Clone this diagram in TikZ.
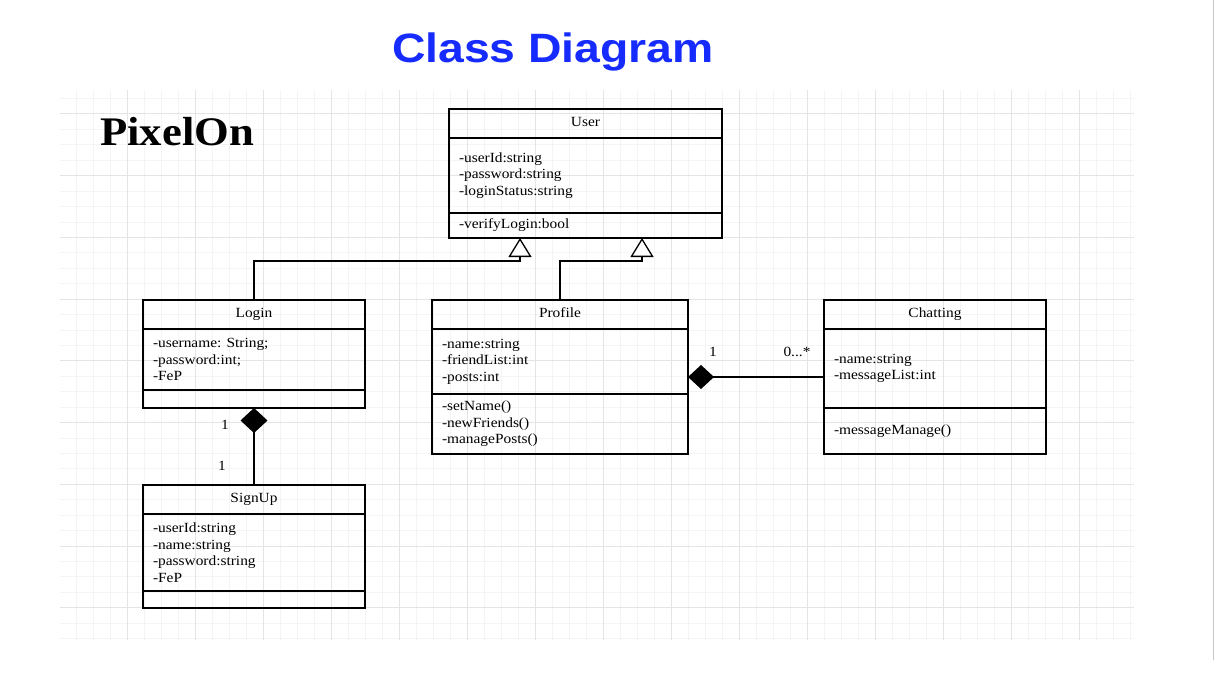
\documentclass[tikz,border=0pt]{standalone}
\usepackage{fontspec}
\usepackage{graphicx}
\setmainfont{Liberation Serif}
\newfontfamily\titlefont{Liberation Sans}
\usetikzlibrary{arrows.meta}
\frenchspacing

\definecolor{titleblue}{RGB}{22,44,255}
\definecolor{gridminor}{RGB}{244,244,244}
\definecolor{gridmajor}{RGB}{228,228,228}

% body text is set slightly widened
\newcommand\bodyfont{\fontsize{14}{16.5}\selectfont}
\newcommand\sx[1]{\scalebox{1.1}[1]{#1}}

\tikzset{
  cell/.style={draw=black, line width=1.3pt, inner sep=0pt, outer sep=0pt,
               anchor=north west, font=\bodyfont},
  head/.style={cell, align=center, text height=9.5pt, text depth=4pt},
  members/.style={cell, align=left, inner xsep=10pt},
  inherit/.style={line width=1.3pt, -{Triangle[fill=white, length=19pt, width=23pt]}},
  composeH/.style={line width=1.3pt, {Diamond[length=26pt, width=24pt]}-},
  composeV/.style={line width=1.3pt, {Diamond[length=25pt, width=27pt]}-},
  mult/.style={font=\bodyfont, inner sep=0pt},
}

\begin{document}
\begin{tikzpicture}[x=1pt, y=-1pt]
\useasboundingbox (0,0) rectangle (1214,674);
\fill[white] (0,0) rectangle (1214,674);

% background grid
\begin{scope}
  \clip (60,90) rectangle (1134,640);
  \foreach \i in {0,...,63}
    \draw[gridminor, line width=1pt] ({59+17*\i},90) -- ({59+17*\i},640);
  \foreach \j in {-1,...,34}
    \draw[gridminor, line width=1pt] (60,{114+15.43*\j}) -- (1134,{114+15.43*\j});
  \foreach \i in {0,4,...,60}
    \draw[gridmajor, line width=1pt] ({59+17*\i},90) -- ({59+17*\i},640);
  \foreach \j in {0,4,...,32}
    \draw[gridmajor, line width=1pt] (60,{114+15.43*\j}) -- (1134,{114+15.43*\j});
\end{scope}

% page edge
\draw[gray!45, line width=1pt] (1213,0) -- (1213,660);

% headings
\node[font=\titlefont\bfseries\fontsize{41}{41}\selectfont, text=titleblue,
      anchor=base, inner sep=0pt] (title) at (553,63)
      {\scalebox{1.13}[1]{Class Diagram}};
\node[font=\bfseries\fontsize{40.6}{41}\selectfont, anchor=base west, inner sep=0pt]
      (brand) at (100,146) {\scalebox{1.1}[1]{PixelOn}};

% User
\node[head, minimum width=273pt, minimum height=29pt] (userH) at (449,109) {\sx{User}};
\node[members, text width=253pt, minimum height=75pt] (userA) at (449,138)
  {\sx{-userId:string}\\\sx{-password:string}\\\sx{-loginStatus:string}};
\node[members, text width=253pt, minimum height=25pt] (userO) at (449,213)
  {\sx{-verifyLogin:bool}};

% Login
\node[head, minimum width=222pt, minimum height=29pt] (loginH) at (143,300) {\sx{Login}};
\node[members, text width=202pt, minimum height=61pt] (loginA) at (143,329)
  {\sx{-username: String;}\\\sx{-password:int;}\\\sx{-FeP}};
\node[cell, minimum width=222pt, minimum height=18pt] (loginO) at (143,390) {};

% Profile
\node[head, minimum width=256pt, minimum height=29pt] (profH) at (432,300) {\sx{Profile}};
\node[members, text width=236pt, minimum height=65pt] (profA) at (432,329)
  {\sx{-name:string}\\\sx{-friendList:int}\\\sx{-posts:int}};
\node[members, text width=236pt, minimum height=60pt] (profO) at (432,394)
  {\sx{-setName()}\\\sx{-newFriends()}\\\sx{-managePosts()}};

% Chatting
\node[head, minimum width=222pt, minimum height=29pt] (chatH) at (824,300) {\sx{Chatting}};
\node[members, text width=202pt, minimum height=79pt] (chatA) at (824,329)
  {\sx{-name:string}\\\sx{-messageList:int}};
\node[members, text width=202pt, minimum height=46pt] (chatO) at (824,408)
  {\sx{-messageManage()}};

% SignUp
\node[head, minimum width=222pt, minimum height=29pt] (signH) at (143,485) {\sx{SignUp}};
\node[members, text width=202pt, minimum height=77pt] (signA) at (143,514)
  {\sx{-userId:string}\\\sx{-name:string}\\\sx{-password:string}\\\sx{-FeP}};
\node[cell, minimum width=222pt, minimum height=17pt] (signO) at (143,591) {};

% generalisation
\coordinate (tipA) at (520,238);
\coordinate (kneeA) at (520,261);
\coordinate (tipB) at (642,238);
\coordinate (kneeB) at (642,261);
\draw[inherit] (loginH.north) |- (kneeA) -- (tipA);
\draw[inherit] (profH.north) |- (kneeB) -- (tipB);

% composition
\coordinate (rowY) at (0,377);
\draw[composeH] (profA.east |- rowY) -- (chatA.west |- rowY);
\draw[composeV] (loginO.south) -- (signH.north);

% multiplicities
\node[mult] (m1) at (713,352) {\sx{1}};
\node[mult] (m2) at (797,352) {\sx{0...*}};
\node[mult] (m3) at (225,425) {\sx{1}};
\node[mult] (m4) at (222,466) {\sx{1}};
\end{tikzpicture}
\end{document}
